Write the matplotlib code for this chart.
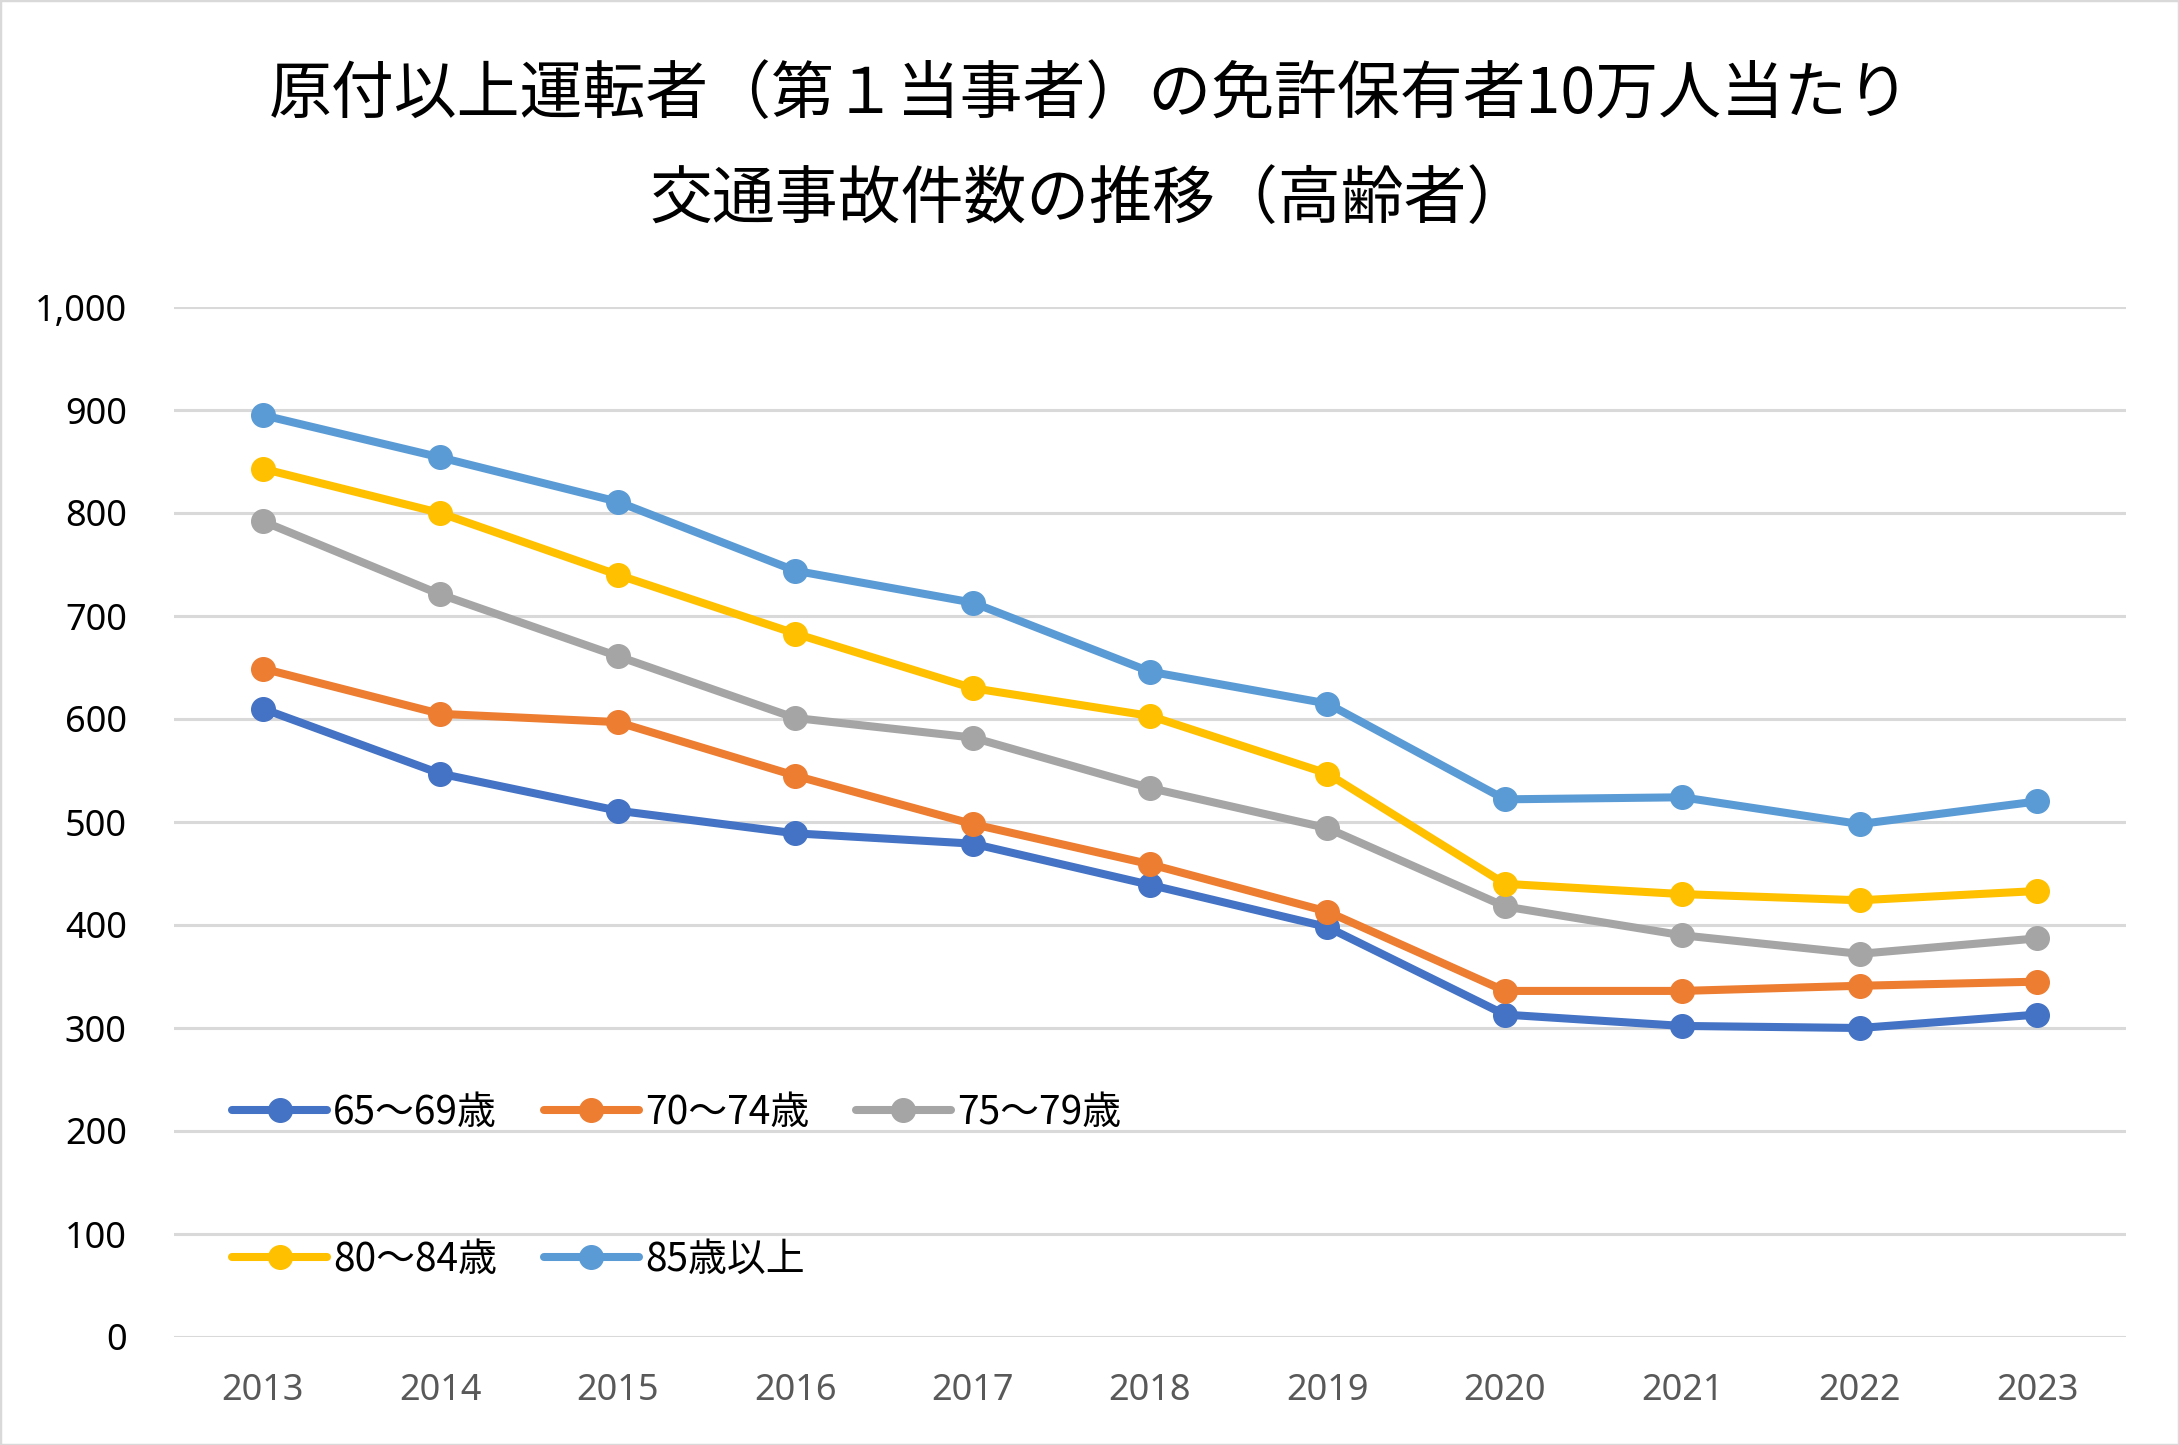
import matplotlib
matplotlib.use("Agg")
import matplotlib.pyplot as plt
from matplotlib.patches import Rectangle
from matplotlib.ticker import FuncFormatter

years = ["2013", "2014", "2015", "2016", "2017", "2018", "2019", "2020", "2021", "2022", "2023"]
s65_69 = [610, 547, 511, 489, 479, 439, 398, 313, 302, 300, 313]
s70_74 = [649, 605, 597, 545, 498, 459, 413, 336, 336, 341, 345]
s75_79 = [792, 721, 661, 601, 582, 533, 494, 418, 390, 372, 387]
s80_84 = [843, 800, 740, 683, 630, 603, 547, 440, 430, 424, 433]
s85_up = [895, 854, 811, 744, 713, 646, 615, 522, 524, 498, 520]
labels = ["65～69歳", "70～74歳", "75～79歳", "80～84歳", "85歳以上"]
colors = ["#4472C4", "#ED7D31", "#A5A5A5", "#FFC000", "#5B9BD5"]
title_line1 = "原付以上運転者（第１当事者）の免許保有者10万人当たり"
title_line2 = "交通事故件数の推移（高齢者）"

W, H = 2179, 1445
fig = plt.figure(figsize=(W / 100, H / 100), dpi=100)
fig.patch.set_facecolor("white")
fig.patches.append(Rectangle((0, 0), 1, 1, transform=fig.transFigure, fill=False,
                             edgecolor="#D9D9D9", linewidth=2.5))

ax = fig.add_axes([174 / W, (H - 1337) / H, (2126 - 174) / W, (1337 - 307) / H])
x = list(range(len(years)))
series = [s65_69, s70_74, s75_79, s80_84, s85_up]
handles = []
for vals, lab, c in zip(series, labels, colors):
    h, = ax.plot(x, vals, color=c, linewidth=5.8, marker="o", markersize=17,
                 label=lab, clip_on=False, zorder=3, solid_capstyle="round")
    handles.append(h)

ax.set_xlim(-0.5, len(years) - 0.5)
ax.set_ylim(0, 1000)
ax.set_yticks(range(0, 1001, 100))
ax.yaxis.set_major_formatter(FuncFormatter(lambda v, p: f"{int(v):,}"))
ax.set_xticks(x)
ax.set_xticklabels(years)
for sp in ax.spines.values():
    sp.set_visible(False)
ax.grid(axis="y", color="#D9D9D9", linewidth=2.2, zorder=0)
ax.set_axisbelow(True)
ax.tick_params(axis="both", length=0)
ax.tick_params(axis="y", pad=34, labelsize=26, labelcolor="#000000")
ax.tick_params(axis="x", pad=26, labelsize=26, labelcolor="#595959")
for t in ax.get_xticklabels() + ax.get_yticklabels():
    t.set_fontfamily(["Noto Sans", "DejaVu Sans"])

fig.text(0.5, 1 - 95 / H, title_line1, ha="center", va="center",
         fontsize=45.3, family=["Noto Sans CJK JP", "DejaVu Sans"], color="#000000")
fig.text(0.5, 1 - 200 / H, title_line2, ha="center", va="center",
         fontsize=45.3, family=["Noto Sans CJK JP", "DejaVu Sans"], color="#000000")

order = [0, 3, 1, 4, 2]
leg = ax.legend([handles[i] for i in order], [labels[i] for i in order], ncol=3,
                loc="upper left", bbox_to_anchor=(232 / W, (H - 1093) / H),
                bbox_transform=fig.transFigure, frameon=False, borderpad=0, borderaxespad=0,
                handlelength=2.45, handletextpad=0.15, labelspacing=2.75, columnspacing=1.2,
                prop={"family": ["Noto Sans CJK JP", "DejaVu Sans"], "size": 28})

fig.savefig("out.png", dpi=100, facecolor="white")
